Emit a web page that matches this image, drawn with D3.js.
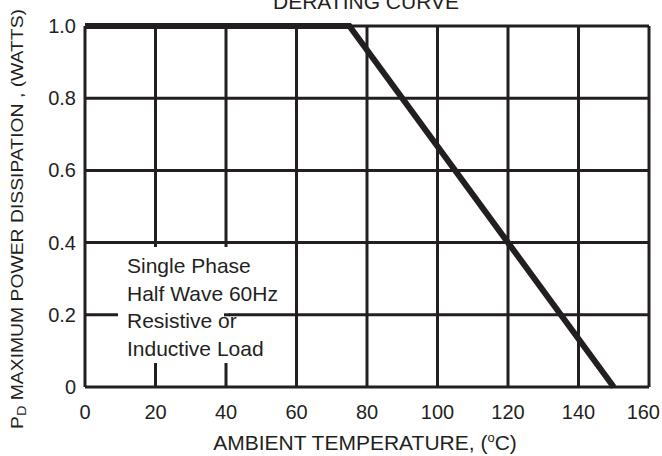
<!DOCTYPE html>
<html>
<head>
<meta charset="utf-8">
<script src="https://cdn.jsdelivr.net/npm/d3@7"></script>
<style>
  body { margin: 0; background: #fff; }
  text { font-family: "Liberation Sans", Arial, sans-serif; fill: #231f20; }
</style>
</head>
<body>
<script>
// derating curve: full power up to 75C, down to zero at 150C
var temps = [0, 75, 150];
var watts = [1.0, 1.0, 0];
var xTicks = [0, 20, 40, 60, 80, 100, 120, 140, 160];
var yTicks = [0, 0.2, 0.4, 0.6, 0.8, 1.0];
var yTickLabels = ['0', '0.2', '0.4', '0.6', '0.8', '1.0'];
var noteLines = ['Single Phase', 'Half Wave 60Hz', 'Resistive or', 'Inductive Load'];

var W = 662, H = 456;
var INK = '#231f20';

var svg = d3.select('body').append('svg')
  .attr('width', W)
  .attr('height', H);

var x = d3.scaleLinear().domain([0, 160]).range([85, 649]);
var y = d3.scaleLinear().domain([0, 1]).range([387, 26]);

// vertical grid
svg.selectAll('line.vgrid')
  .data(xTicks)
  .enter().append('line')
    .attr('class', 'vgrid')
    .attr('x1', function (d) { return x(d); })
    .attr('x2', function (d) { return x(d); })
    .attr('y1', y(0))
    .attr('y2', y(1))
    .style('stroke', INK)
    .style('stroke-width', 3);

// horizontal grid
svg.selectAll('line.hgrid')
  .data(yTicks)
  .enter().append('line')
    .attr('class', 'hgrid')
    .attr('x1', x(0))
    .attr('x2', x(160))
    .attr('y1', function (d) { return y(d); })
    .attr('y2', function (d) { return y(d); })
    .style('stroke', INK)
    .style('stroke-width', 3);

// white box behind the note, the 0.2 line pokes back in at "or"
svg.append('rect')
  .attr('x', 118)
  .attr('y', 247)
  .attr('width', 111)
  .attr('height', 116)
  .style('fill', '#fff');
svg.append('line')
  .attr('x1', 224).attr('x2', 230)
  .attr('y1', y(0.2)).attr('y2', y(0.2))
  .style('stroke', INK)
  .style('stroke-width', 3);

svg.selectAll('text.note')
  .data(noteLines)
  .enter().append('text')
    .attr('class', 'note')
    .attr('x', 127)
    .attr('y', function (d, i) { return 273 + i * 27.7; })
    .style('font-size', '21px')
    .text(function (d) { return d; });

// the curve
var line = d3.line()
  .x(function (d) { return x(d[0]); })
  .y(function (d) { return y(d[1]); });

svg.append('path')
  .datum(d3.zip(temps, watts))
  .attr('d', line)
  .style('fill', 'none')
  .style('stroke', INK)
  .style('stroke-width', 6)
  .style('stroke-linejoin', 'miter');

// tick labels (last one pulled in so it stays on the page)
svg.selectAll('text.xt')
  .data(xTicks)
  .enter().append('text')
    .attr('class', 'xt')
    .attr('x', function (d, i) { return i === xTicks.length - 1 ? W - 2 : x(d); })
    .attr('y', 419)
    .attr('text-anchor', function (d, i) { return i === xTicks.length - 1 ? 'end' : 'middle'; })
    .style('font-size', '20px')
    .text(function (d) { return d; });

svg.selectAll('text.yt')
  .data(yTicks)
  .enter().append('text')
    .attr('class', 'yt')
    .attr('x', 76)
    .attr('y', function (d) { return y(d) + 7; })
    .attr('text-anchor', 'end')
    .style('font-size', '20px')
    .text(function (d, i) { return yTickLabels[i]; });

// titles
svg.append('text')
  .attr('x', 366)
  .attr('y', 9)
  .attr('text-anchor', 'middle')
  .style('font-size', '21px')
  .text('DERATING CURVE');

var xt = svg.append('text')
  .attr('x', 365)
  .attr('y', 450)
  .attr('text-anchor', 'middle')
  .style('font-size', '21px');
xt.append('tspan').text('AMBIENT TEMPERATURE, (');
xt.append('tspan').attr('dy', -8).style('font-size', '13px').text('o');
xt.append('tspan').attr('dy', 8).text('C)');

var yt = svg.append('text')
  .attr('transform', 'translate(23,219) rotate(-90)')
  .attr('text-anchor', 'middle')
  .attr('textLength', 420)
  .attr('lengthAdjust', 'spacingAndGlyphs')
  .style('font-size', '16px');
yt.append('tspan').text('P');
yt.append('tspan').attr('dy', 3).style('font-size', '12px').text('D');
yt.append('tspan').attr('dy', -3).text(' MAXIMUM POWER DISSIPATION , (WATTS)');
</script>
</body>
</html>
